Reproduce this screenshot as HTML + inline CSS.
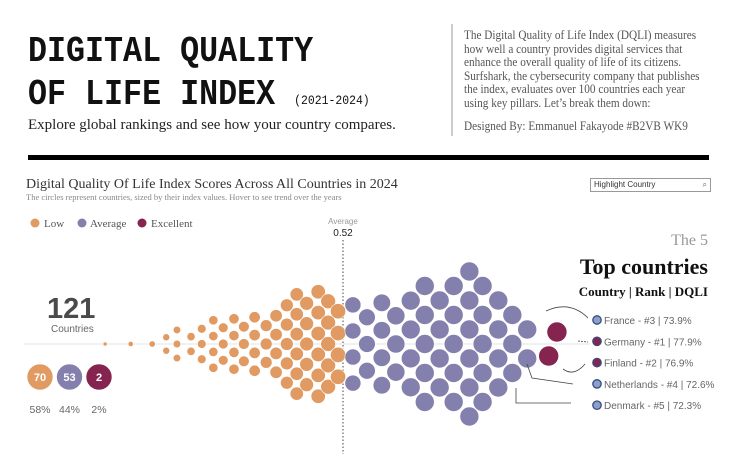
<!DOCTYPE html>
<html><head><meta charset="utf-8">
<style>
body{margin:0;width:736px;height:454px;overflow:hidden;background:#fff;font-family:"Liberation Sans",sans-serif;position:relative}
.abs{position:absolute;margin:0}
.serif{font-family:"Liberation Serif",serif}
</style></head><body>
<div class="abs" style="left:28px;top:30px;font-family:'Liberation Mono',monospace;font-weight:bold;font-size:36px;line-height:43px;transform:scaleX(0.88);transform-origin:left top;white-space:nowrap;color:#111">DIGITAL QUALITY<br>OF LIFE INDEX <span style="font-size:13px;font-weight:normal;letter-spacing:0">(2021-2024)</span></div>
<div class="abs serif" style="left:28px;top:117px;font-size:15px;color:#222">Explore global rankings and see how your country compares.</div>
<div class="abs" style="left:451px;top:24px;width:2px;height:112px;background:#ccc"></div>
<div class="abs serif" style="left:464px;top:29px;font-size:12.5px;line-height:13.6px;color:#555;white-space:nowrap;transform:scaleX(0.9);transform-origin:left top">The Digital Quality of Life Index (DQLI) measures<br>how well a country provides digital services that<br>enhance the overall quality of life of its citizens.<br>Surfshark, the cybersecurity company that publishes<br>the index, evaluates over 100 countries each year<br>using key pillars. Let’s break them down:</div>
<div class="abs serif" style="left:464px;top:119px;font-size:12.5px;color:#555;white-space:nowrap;transform:scaleX(0.9);transform-origin:left top">Designed By: Emmanuel Fakayode #B2VB WK9</div>
<div class="abs" style="left:28px;top:155px;width:681px;height:5px;background:#000"></div>

<div class="abs serif" style="left:26px;top:177px;font-size:14px;color:#333">Digital Quality Of Life Index Scores Across All Countries in 2024</div>
<div class="abs serif" style="left:26px;top:192px;font-size:8.5px;color:#888">The circles represent countries, sized by their index values. Hover to see trend over the years</div>

<div class="abs" style="left:590px;top:178px;width:116px;height:12px;border:1px solid #999;font-size:8px;line-height:12px;color:#333;padding-left:3px;box-sizing:content-box">Highlight Country<span style="position:absolute;right:3px;top:0;font-size:8px;color:#666">⌕</span></div>

<div class="abs serif" style="right:28px;top:232px;font-size:16px;color:#999">The 5</div>
<div class="abs serif" style="right:28px;top:254px;font-size:22px;font-weight:bold;color:#111">Top countries</div>
<div class="abs serif" style="right:28px;top:284px;font-size:13px;font-weight:bold;color:#111">Country | Rank | DQLI</div>

<svg class="abs" style="left:0;top:0" width="736" height="454">
 <g id="legend" font-family="Liberation Serif, serif" font-size="11" fill="#555">
  <circle cx="35" cy="223" r="4.5" fill="#E09A62"/><text x="44" y="227">Low</text>
  <circle cx="82" cy="223" r="4.5" fill="#8480AE"/><text x="90" y="227">Average</text>
  <circle cx="142" cy="223" r="4.5" fill="#862450"/><text x="151" y="227">Excellent</text>
 </g>
 <line x1="24" y1="344" x2="590" y2="344" stroke="#e3e3e3" stroke-width="1"/>
 <text x="47" y="318" font-size="29" font-weight="bold" fill="#4a4a4a">121</text>
 <text x="51" y="332" font-size="10" fill="#666">Countries</text>
 <g id="summary"></g>
 <g id="avgline"></g>
 <g id="swarm"></g>
 <g fill="none" stroke="#444" stroke-width="0.8">
  <path d="M546 311 Q570 300 588 318"/>
  <path d="M578 341 L588 342" stroke-dasharray="2 1"/>
  <path d="M563 369 Q574 377 585 364"/>
  <path d="M527 364 L532 378 L573 384"/>
  <path d="M516 388 L516 403 L571 403"/>
 </g>
 <g id="top5" font-size="10" fill="#666"></g>
</svg>
<script>
const NS='http://www.w3.org/2000/svg';
const colors={low:'#E09A62',avg:'#8480AE',exc:'#862450'};
// column data: score per column, countries per column
const lowScores=[0.232,0.263,0.289,0.306,0.319,0.336,0.349,0.363,0.375,0.388,0.400,0.413,0.427,0.439,0.452,0.464,0.476,0.490,0.502,0.514];
const lowCounts=[1,1,1,2,3,2,3,4,3,4,3,4,3,4,5,6,5,6,5,4];
const avgScores=[0.532,0.549,0.567,0.584,0.602,0.619,0.637,0.654,0.673,0.689,0.708,0.725,0.743];
const avgCounts=[4,3,4,3,4,5,4,5,6,5,4,3,2];
const excScores=[0.779,0.769];
const excOffsets=[-1,1];
const summaryCounts=[70,53,2];
const summaryPct=['58%','44%','2%'];
const top5Names=['France - #3 | 73.9%','Germany - #1 | 77.9%','Finland - #2 | 76.9%','Netherlands - #4 | 72.6%','Denmark - #5 | 72.3%'];
const top5Group=['avg','exc','exc','avg','avg'];
const avgValue=0.52;

const xScale=s=>343+(s-0.52)*826;
const rScale=s=>Math.min(9.5,2+(s-0.23)*20);
const cy0=344;
const swarm=document.getElementById('swarm');
function circ(parent,cx,cy,r,fill,name){
 const c=document.createElementNS(NS,'circle');
 c.setAttribute('cx',cx);c.setAttribute('cy',cy);c.setAttribute('r',r);c.setAttribute('fill',fill);
 c.setAttribute('stroke','#fff');c.setAttribute('stroke-width','0.6');
 
 
 parent.appendChild(c);return c;
}
function drawCols(scores,counts,fill,name,extra){
 scores.forEach((s,i)=>{
  const n=counts[i],r=rScale(s),gap=2*r+extra,x=xScale(s);
  for(let k=0;k<n;k++){circ(swarm,x,cy0+(k-(n-1)/2)*gap,r,fill,name);}
 });
}
drawCols(lowScores,lowCounts,colors.low,'country-circle-low',6.5);
drawCols(avgScores,avgCounts,colors.avg,'country-circle-average',10);
excScores.forEach((s,i)=>{circ(swarm,xScale(s),cy0+excOffsets[i]*12,10,colors.exc,'country-circle-excellent');});

// average line
const ag=document.getElementById('avgline');
const ax=xScale(avgValue);
const ln=document.createElementNS(NS,'line');
ln.setAttribute('x1',ax);ln.setAttribute('x2',ax);ln.setAttribute('y1',240);ln.setAttribute('y2',454);
ln.setAttribute('stroke','#444');ln.setAttribute('stroke-dasharray','1.5 2');


ag.appendChild(ln);
const t1=document.createElementNS(NS,'text');t1.setAttribute('x',ax);t1.setAttribute('y',224);t1.setAttribute('text-anchor','middle');t1.setAttribute('font-size','8');t1.setAttribute('fill','#999');t1.textContent='Average';


ag.appendChild(t1);
const t2=document.createElementNS(NS,'text');t2.setAttribute('x',ax);t2.setAttribute('y',236);t2.setAttribute('text-anchor','middle');t2.setAttribute('font-size','10');t2.setAttribute('fill','#222');t2.textContent=avgValue.toFixed(2);


ag.appendChild(t2);

// summary
const sg=document.getElementById('summary');
const sFill=[colors.low,colors.avg,colors.exc];
summaryCounts.forEach((v,i)=>{
 const x=40+i*29.5;
 const c=circ(sg,x,377,13,sFill[i],'summary-badge');
 
 const t=document.createElementNS(NS,'text');t.setAttribute('x',x);t.setAttribute('y',381);t.setAttribute('text-anchor','middle');t.setAttribute('font-size','11');t.setAttribute('font-weight','bold');t.setAttribute('fill','#fff');t.textContent=v;
 
 
 sg.appendChild(t);
 const p=document.createElementNS(NS,'text');p.setAttribute('x',x);p.setAttribute('y',413);p.setAttribute('text-anchor','middle');p.setAttribute('font-size','10.5');p.setAttribute('fill','#666');p.textContent=summaryPct[i];
 
 
 sg.appendChild(p);
});

// top5
const tg=document.getElementById('top5');
top5Names.forEach((n,i)=>{
 const y=320+i*21.3;
 const c=document.createElementNS(NS,'circle');c.setAttribute('cx',597);c.setAttribute('cy',y);c.setAttribute('r',4.2);
 c.setAttribute('fill',top5Group[i]==='exc'?colors.exc:'#8aa0c8');c.setAttribute('stroke','#3a4a80');c.setAttribute('stroke-width','1.3');
 
 
 tg.appendChild(c);
 const t=document.createElementNS(NS,'text');t.setAttribute('x',604);t.setAttribute('y',y+4);t.textContent=n;
 
 
 tg.appendChild(t);
});
</script>
</body></html>
